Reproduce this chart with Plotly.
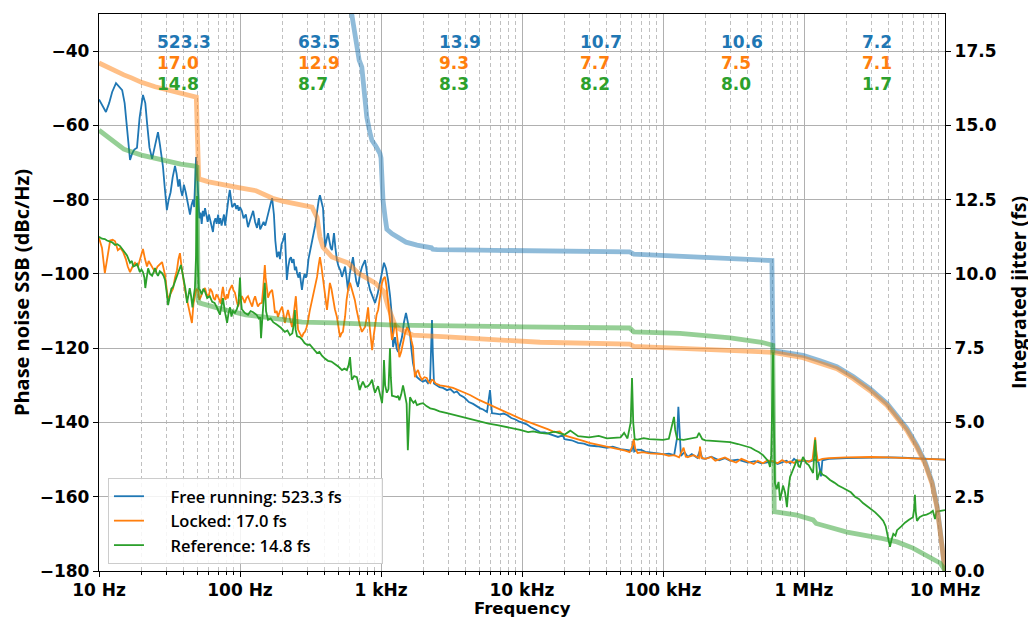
import math
import plotly.graph_objects as go

# ---------------- data ----------------
decade_hz = [10, 100, 1e3, 1e4, 1e5, 1e6, 1e7]
decade_labels = ["10 Hz", "100 Hz", "1 kHz", "10 kHz", "100 kHz", "1 MHz", "10 MHz"]
pn_ticks = [-180, -160, -140, -120, -100, -80, -60, -40]
jit_ticks = [0, 2.5, 5.0, 7.5, 10.0, 12.5, 15.0, 17.5]

# integrated jitter (fs) from each decade start up to 10 MHz
ann_free = [523.3, 63.5, 13.9, 10.7, 10.6, 7.2]
ann_lock = [17.0, 12.9, 9.3, 7.7, 7.5, 7.1]
ann_ref = [14.8, 8.7, 8.3, 8.2, 8.0, 1.7]

# phase noise SSB (Hz, dBc/Hz)
pn_free = [(10,-53),(10.5,-54.5),(11.2,-56.4),(11.8,-54),(12.4,-51),(13.2,-48.6),(13.9,-49.5),(14.6,-50.5),(15.2,-54),(15.8,-60),(16.6,-69.3),(17.2,-67.5),(17.8,-66.5),(18.6,-66),(19.4,-58),(20.5,-51.8),(21.3,-54),(22,-60),(22.8,-66),(23.8,-69),(24.5,-67),(25.3,-64),(26.2,-61.8),(27,-65),(27.7,-68.5),(28.4,-71),(29.3,-77),(30.3,-82.8),(31.2,-80),(32.2,-78),(33.3,-74),(34.6,-70.9),(35.5,-73),(36.5,-76.5),(37.3,-74.5),(38.1,-77.5),(39,-79),(40,-76),(41.2,-78),(42.7,-81),(43.5,-83),(44.2,-84),(45.3,-81.5),(46.5,-80),(47.3,-82),(48.2,-76),(48.8,-68.5),(49.5,-72),(50.5,-80),(51.5,-85),(52.5,-83.5),(53.5,-86.5),(54.5,-83),(55.5,-84.5),(56.5,-82.3),(57.8,-84),(59,-86),(60.2,-84),(61.3,-85.5),(62.8,-87),(64.3,-88.7),(65.5,-86),(67,-85),(68.3,-86.5),(70,-84),(71,-86.5),(72.5,-85),(74,-87),(75.5,-85),(77,-84),(78.5,-87),(80,-84),(81.5,-82),(83,-79.5),(84.7,-77.4),(86.5,-80),(88,-82),(90,-81.5),(92,-81),(94,-82.5),(96,-81.5),(98,-83),(100,-82),(103,-83),(106,-85),(110,-84),(114,-87.4),(118,-85.5),(121,-84),(124,-83),(128,-86),(132,-87.6),(136,-85),(139,-88),(143,-87),(147,-86),(151,-87),(155,-85),(160,-83),(165,-81),(169,-79.6),(174,-84),(178,-91),(183,-95.5),(188,-94),(192,-96),(197,-92),(202,-91),(208,-89),(212,-96),(215,-101.6),(220,-98),(225,-96),(230,-95.5),(234,-97),(240,-96),(245,-99),(250,-98),(254,-99.8),(260,-101),(265,-99.5),(270,-102),(275,-104.3),(281,-101.5),(287,-100),(293,-101),(299,-99.8),(306,-96),(313,-94),(320,-91.5),(329,-90),(335,-88.5),(341,-87),(347,-84.7),(355,-82),(362,-80),(369,-78.8),(378,-80.5),(388,-82.3),(395,-88),(401,-92.8),(410,-91),(421,-89),(430,-91),(440,-93),(449,-93.6),(456,-91),(464,-89),(475,-93),(487,-96.3),(500,-98),(515,-99),(529,-100.8),(542,-99),(556,-98),(570,-101),(583,-104.3),(600,-100),(617,-97.5),(633,-95.5),(650,-99),(668,-102),(687,-103.5),(710,-100),(735,-98),(755,-97),(771,-96.3),(790,-99),(810,-102),(836,-104.3),(870,-106),(907,-107.8),(945,-105.5),(984,-102.4),(1015,-99.5),(1050,-97),(1085,-98.5),(1122,-101.6),(1160,-106),(1196,-111.6),(1217,-119.7),(1257,-117),(1290,-120),(1321,-121),(1365,-119),(1409,-117),(1455,-113),(1504,-110.5),(1550,-113),(1606,-116),(1640,-120),(1686,-124),(1740,-126.5),(1800,-127.8),(1890,-128.5),(1985,-129),(2070,-128.6),(2153,-129.4),(2230,-128.5),(2270,-120),(2300,-112.4),(2330,-121),(2376,-129.5),(2480,-130),(2600,-130.5),(2750,-130.7),(2939,-131.3),(3100,-131),(3300,-132),(3450,-131.6),(3630,-132.6),(3900,-133.3),(4200,-134.5),(4500,-135),(4797,-135.8),(5050,-136.2),(5300,-136.5),(5480,-136.8),(5646,-137.2),(5800,-134),(5930,-131.3),(6030,-134.5),(6124,-137.5),(6500,-137.6),(7000,-137.8),(7400,-137.6),(7830,-138),(8400,-138.8),(9000,-139.2),(9600,-139.8),(10170,-140.2),(10800,-140.5),(11500,-141.2),(12400,-141.8),(13420,-142.6),(14500,-142.7),(16000,-143.3),(18000,-143.9),(19500,-143.5),(20000,-144.5),(22500,-144.8),(25000,-145.5),(27500,-145.7),(30000,-146.2),(34000,-146.4),(40000,-146.8),(44000,-146.5),(50000,-147.2),(55000,-147.4),(60000,-147.6),(61500,-145),(62500,-147.8),(66000,-147.3),(70000,-147.4),(75000,-147.9),(80000,-148),(88000,-148.2),(95000,-148.4),(100000,-148.6),(110000,-148.4),(120000,-148.8),(126000,-144),(128500,-135.8),(131000,-144),(134000,-149),(142000,-148),(150000,-149.3),(160000,-148.5),(175000,-149.5),(183000,-147.5),(190000,-149.7),(200000,-149.8),(220000,-149.2),(250000,-150.2),(275000,-149.6),(300000,-150.3),(340000,-150),(400000,-150.8),(450000,-150.4),(500000,-151),(550000,-150.7),(600000,-150.5),(650000,-151.2),(700000,-150.7),(750000,-150.3),(800000,-151),(850000,-149.8),(900000,-150.6),(1e6,-150.3),(1.1e6,-150.5),(1.2e6,-150),(1.27e6,-150.8),(1.3e6,-153.5),(1.32e6,-154.5),(1.35e6,-150.2),(1.5e6,-149.8),(2e6,-149.6),(3e6,-149.4),(4e6,-149.4),(5e6,-149.5),(7e6,-149.8),(1e7,-150)]

pn_lock = [(10,-90.3),(10.5,-93),(11,-99.8),(11.5,-95),(12,-91),(12.5,-90.8),(13,-91.2),(13.6,-93.6),(14.2,-93),(14.8,-94),(15.5,-96),(16,-98),(16.6,-99.5),(17.3,-98),(18,-97),(18.9,-98),(19.7,-95.5),(20.5,-93.3),(21.2,-96),(21.9,-98),(22.5,-96.5),(23.2,-97.5),(24,-98.5),(25,-99.5),(26,-98),(27,-97.5),(28,-96.8),(28.7,-98.5),(29.4,-100.3),(30.2,-104),(30.9,-107),(32,-105.5),(33.5,-104),(34.6,-101),(35.7,-99),(36.6,-96),(37.5,-94.4),(38.5,-98),(39.5,-101.6),(40.8,-104.5),(42.1,-107),(43.5,-110),(44.5,-112),(45.6,-113.2),(46.8,-108),(47.9,-106),(49,-104),(50.4,-104.5),(51.5,-107),(53,-106),(54.5,-104.5),(56.5,-103.8),(58,-105.5),(60,-106),(61.5,-104),(63.4,-104.8),(65,-106.5),(66.5,-107),(68,-105.5),(69.9,-106.2),(71.5,-107.5),(73,-108),(74.5,-105),(75.7,-103.5),(77.3,-106),(79,-107),(80.5,-105.5),(82,-106.6),(84,-104.5),(86,-103.5),(87.7,-103),(90,-104.5),(92,-105),(95,-107.5),(97,-108.8),(100,-107),(103,-106),(106,-107),(108,-107.8),(111,-106.5),(114,-106),(118,-107.5),(122,-108.8),(125,-107),(128,-106),(131,-107.5),(134,-108.8),(138,-108),(143,-107.8),(146,-104),(148,-99),(150,-97.6),(152,-101),(155,-105),(158,-106.4),(163,-105),(169,-104.3),(173,-107),(177,-110.5),(182,-110),(186,-111.6),(192,-110),(199,-108.8),(204,-111),(208,-113.2),(213,-111.5),(219,-109.7),(226,-112),(234,-114.3),(240,-111),(245,-107.5),(249,-106),(253,-110),(258,-115),(266,-116),(275,-117),(282,-116),(289,-115.6),(296,-114.5),(302,-113.2),(312,-110),(324,-107),(338,-104),(352,-100.8),(360,-98),(369,-95.5),(378,-98),(388,-101.6),(400,-105.5),(414,-109.7),(424,-106),(434,-102.4),(445,-104),(456,-107),(471,-109.5),(487,-111.6),(500,-114.5),(512,-117),(524,-116),(537,-115.6),(546,-113.5),(556,-111.6),(570,-107),(586,-104),(603,-102.4),(627,-104.5),(652,-107),(670,-109.5),(687,-111.6),(710,-114),(732,-115.6),(751,-115),(771,-114.3),(790,-112),(810,-109),(830,-114),(848,-118),(865,-120.5),(885,-117),(907,-113.2),(930,-111),(954,-109.7),(985,-106),(1017,-102.4),(1040,-101.3),(1067,-100.8),(1095,-103.5),(1122,-107),(1160,-112),(1196,-117.8),(1225,-116),(1257,-113.2),(1277,-114),(1295,-116),(1320,-119.5),(1350,-122.4),(1390,-121),(1433,-118.5),(1480,-116),(1530,-114.3),(1570,-115),(1606,-116),(1645,-118),(1686,-119.7),(1710,-124),(1740,-127.8),(1785,-126.5),(1830,-125.9),(1890,-127.5),(1950,-128.5),(2030,-127.8),(2110,-128),(2170,-129),(2235,-129.4),(2290,-128.5),(2338,-128.6),(2450,-129.5),(2620,-130),(2900,-130.3),(3241,-130.7),(3700,-131.6),(4277,-132.6),(5000,-134),(5930,-135.3),(6800,-136.2),(7830,-137.2),(9000,-138.4),(10170,-139.3),(11700,-140.2),(13420,-141),(15200,-141.8),(17000,-142.6),(18500,-142.4),(20000,-143.5),(22500,-144),(25000,-144.5),(27500,-145),(30000,-145.5),(35000,-146),(40000,-146.5),(45000,-146.9),(50000,-147.3),(54000,-147.6),(58000,-148),(60500,-146.5),(62000,-144.5),(63500,-147),(66000,-148.2),(72000,-148),(80000,-148.3),(90000,-148.4),(100000,-148.5),(110000,-149),(120000,-148.8),(130000,-149.4),(140000,-146.8),(145000,-149.2),(150000,-149.3),(165000,-148.8),(180000,-149.6),(183000,-146.5),(187000,-149.5),(200000,-149.8),(220000,-149.3),(235000,-150.3),(250000,-150),(275000,-149.4),(300000,-150.2),(330000,-150.8),(360000,-149.8),(400000,-150.5),(440000,-151.2),(470000,-150.3),(512000,-151),(550000,-150.2),(600000,-150.4),(650000,-151),(700000,-150.1),(750000,-150.8),(800000,-150.5),(850000,-150.9),(900000,-150.2),(1e6,-150.2),(1.08e6,-150.6),(1.15e6,-150),(1.18e6,-147),(1.2e6,-144),(1.22e6,-147.5),(1.25e6,-150.3),(1.35e6,-149.8),(1.5e6,-149.6),(2e6,-149.4),(2.5e6,-149.3),(3e6,-149.3),(4e6,-149.4),(5e6,-149.5),(6e6,-149.6),(8e6,-149.8),(1e7,-150)]

pn_ref = [(10,-90),(10.5,-90.5),(11,-90.6),(11.4,-91),(12,-91.3),(12.4,-91.5),(13,-92.2),(13.5,-92),(14.1,-92.5),(14.6,-93.3),(15.2,-94.4),(15.8,-95),(16.6,-97),(17.1,-96.5),(17.5,-98),(18,-97.8),(18.6,-97.3),(19,-98.5),(19.5,-99.5),(20,-98.8),(20.5,-99.5),(21,-101),(21.3,-103.8),(21.8,-101),(22.3,-98.5),(23,-100),(23.8,-100.5),(24.4,-99.5),(25,-98.4),(25.6,-99.8),(26.2,-100.5),(27,-99.3),(28,-99.8),(28.7,-100.5),(29.4,-101.6),(30.2,-105),(30.9,-108.4),(31.8,-106),(32.6,-104),(33.5,-103.5),(34.6,-102),(35.7,-101),(36.8,-99.5),(38.1,-97.6),(39,-99.5),(40,-101.6),(41,-104),(42.1,-107.8),(43,-105.5),(44,-103.8),(45,-106),(46,-109),(47,-106),(47.9,-103.8),(48.8,-95),(49.6,-79),(50.2,-97),(51,-104),(52,-104.3),(53.5,-105.5),(55,-104),(56.5,-104.8),(58.5,-106.5),(61,-106),(63.5,-107.5),(66,-107.8),(68.5,-109),(72,-111),(74,-108.5),(75.7,-106.5),(78,-110),(81,-113.2),(83,-110.5),(85,-109),(87,-111.5),(89,-110),(92,-110.5),(95,-109.5),(97.5,-108),(100,-101),(101.5,-107),(103,-109.5),(108,-110.5),(114,-111),(119,-110),(124,-110.3),(131,-111),(136,-112),(139,-111.6),(141,-117.3),(144,-112),(148,-105),(150,-102.4),(153,-110),(158,-112.4),(165,-112),(172,-113),(183,-113.7),(195,-114.5),(208,-115.6),(217,-115.2),(226,-116.5),(235,-116),(242,-113),(245,-109.7),(248,-115),(254,-116.8),(265,-117),(275,-117.6),(287,-118.6),(299,-119.1),(312,-119),(324,-119.7),(338,-120.5),(352,-121.3),(366,-121),(381,-122),(400,-122.8),(421,-123.4),(445,-123.6),(470,-124.2),(500,-125),(529,-125.9),(550,-125.5),(573,-125.9),(590,-124.5),(603,-122.4),(612,-125),(621,-128.5),(645,-127.5),(674,-127.8),(690,-129.5),(705,-131.3),(725,-130),(744,-129),(775,-130.5),(810,-130.2),(838,-129.5),(865,-128.5),(885,-130.5),(907,-132),(930,-131),(954,-130.2),(985,-132.5),(1017,-134.8),(1035,-131),(1050,-123.2),(1070,-130),(1100,-132),(1130,-131),(1145,-126),(1158,-120),(1175,-128),(1196,-132.8),(1245,-133),(1295,-133.2),(1320,-132.8),(1350,-134),(1390,-132.5),(1433,-130),(1460,-131.5),(1480,-132.6),(1520,-135),(1550,-147.5),(1580,-136),(1606,-133.2),(1650,-134),(1700,-134.7),(1750,-134.2),(1800,-135.3),(1890,-135),(1985,-134.8),(2100,-135.6),(2235,-136.2),(2400,-136.5),(2600,-137),(2939,-137.5),(3300,-138),(3780,-138.5),(4300,-139.2),(5052,-139.9),(5800,-140.3),(6680,-140.7),(7600,-141.1),(8630,-141.5),(9700,-142),(11050,-142.6),(12000,-142.4),(13420,-142.8),(15000,-143),(17000,-142.5),(20000,-143.3),(22000,-142.2),(25000,-143.7),(30000,-144),(35000,-143.6),(40000,-144.3),(45000,-144.1),(50000,-144),(53000,-142.8),(56000,-144.3),(59000,-140),(60300,-128),(61500,-140),(63000,-144.5),(66000,-144.6),(73000,-144.2),(80000,-144.5),(90000,-144.6),(100000,-144.7),(110000,-144.4),(116000,-141),(119700,-138.5),(122000,-142),(126000,-144.5),(140000,-144.7),(155000,-144.4),(174000,-144),(180000,-142.8),(190000,-144.5),(200000,-144.8),(226000,-145),(260000,-145.2),(299000,-145.3),(340000,-145.8),(394000,-146.5),(420000,-146.8),(450000,-147.5),(480000,-148),(512000,-148.8),(545000,-149.8),(560000,-150.5),(574000,-152),(585000,-149),(595000,-135),(603000,-121),(610000,-138),(615000,-150),(622000,-156.3),(640000,-158),(660000,-156),(676000,-161),(692000,-158.5),(710000,-157),(735000,-159),(757000,-162.8),(775000,-158),(796000,-154.7),(830000,-153),(860000,-151.5),(892000,-150),(915000,-151.8),(937000,-152),(960000,-150.5),(984000,-149.3),(1.04e6,-151),(1.08e6,-151.5),(1.16e6,-153.6),(1.18e6,-150),(1.2e6,-144.7),(1.22e6,-150),(1.24e6,-155.5),(1.3e6,-153),(1.35e6,-154),(1.43e6,-154.5),(1.53e6,-155.5),(1.64e6,-156.2),(1.75e6,-157),(1.88e6,-157.6),(2.02e6,-158.2),(2.15e6,-158.8),(2.3e6,-160),(2.45e6,-160.6),(2.62e6,-161.7),(2.8e6,-162.5),(3e6,-163.5),(3.2e6,-164.2),(3.46e6,-165.5),(3.65e6,-166.5),(3.8e6,-168),(3.95e6,-171),(4.07e6,-173.5),(4.18e6,-171.5),(4.3e6,-170),(4.45e6,-170.5),(4.57e6,-169),(4.9e6,-168),(5.2e6,-167),(5.55e6,-166.2),(5.93e6,-165.5),(6.05e6,-163),(6.12e6,-159.5),(6.2e6,-164),(6.33e6,-166.5),(6.6e6,-165.5),(7e6,-165),(7.4e6,-164.8),(7.83e6,-164.4),(8.2e6,-163.8),(8.5e6,-166),(8.7e6,-164),(9.2e6,-163.8),(1e7,-163.6)]

# integrated jitter (Hz, fs)
jit_free = [(10,523.3),(15,400),(20,300),(30,200),(45,140),(49.5,125),(50.5,90),(70,75),(100,63.5),(150,48),(200,40),(300,31),(400,26),(500,22.5),(560,20.5),(622,18.7),(674,17.5),(700,17.2),(731,16.96),(760,16.2),(793,15.28),(830,14.8),(862,14.5),(920,14.3),(960,14.17),(984,14.05),(1000,13.9),(1015,13.3),(1033,12.49),(1070,11.9),(1100,11.5),(1200,11.35),(1295,11.24),(1400,11.15),(1504,11.07),(1800,10.97),(2153,10.9),(2280,10.88),(2330,10.83),(2500,10.82),(5000,10.8),(10000,10.78),(30000,10.76),(58000,10.74),(62000,10.67),(100000,10.62),(132000,10.6),(300000,10.53),(574000,10.47),(592000,10.45),(603000,7.42),(984000,7.26),(1.3e6,7.08),(1.71e6,6.88),(2.23e6,6.55),(2.94e6,6.14),(3.88e6,5.64),(4.57e6,5.23),(5.37e6,4.8),(6.33e6,4.22),(7.21e6,3.68),(8.09e6,3.0),(8.78e6,2.19),(9.22e6,1.41),(9.68e6,0.48),(9.9e6,0.15),(1e7,0)]

jit_lock = [(10,17.1),(12,16.9),(15,16.7),(17,16.6),(20,16.45),(25,16.3),(30,16.2),(35,16.1),(40,16.05),(45,16.0),(49,15.95),(50,14.5),(51,13.2),(60,13.1),(70,13.05),(80,13.0),(92,12.95),(100,12.9),(130,12.8),(150,12.65),(170,12.55),(200,12.45),(250,12.35),(324,12.25),(352,11.9),(369,11.24),(388,10.9),(449,10.57),(583,10.37),(687,10.03),(907,9.7),(1000,9.5),(1050,9.4),(1122,8.9),(1257,8.28),(1350,8.15),(1686,7.94),(2939,7.88),(10000,7.72),(13420,7.7),(58000,7.64),(62000,7.56),(100000,7.52),(200000,7.45),(434000,7.4),(603000,7.36),(984000,7.18),(1.3e6,7.01),(1.71e6,6.81),(2.23e6,6.48),(2.94e6,6.07),(3.88e6,5.57),(4.57e6,5.16),(5.37e6,4.73),(6.33e6,4.15),(7.21e6,3.61),(8.09e6,2.94),(8.78e6,2.13),(9.22e6,1.36),(9.68e6,0.45),(9.9e6,0.13),(1e7,0)]

jit_ref = [(10,14.84),(12,14.55),(15,14.2),(20,14.0),(28,13.83),(38,13.7),(48,13.63),(49.5,13.6),(50.5,9.1),(52,9.02),(70,8.85),(100,8.65),(110,8.62),(150,8.55),(200,8.45),(275,8.38),(470,8.35),(1257,8.28),(10000,8.22),(13420,8.21),(58000,8.18),(62000,8.05),(132000,8.0),(300000,7.85),(500000,7.7),(600000,7.6),(615000,2.0),(892000,1.88),(1.16e6,1.72),(1.22e6,1.6),(2.02e6,1.31),(3.46e6,1.11),(4.57e6,0.98),(5.93e6,0.77),(7.83e6,0.47),(9.22e6,0.27),(9.7e6,0.12),(1e7,0)]

names = ["Free running", "Locked", "Reference"]
colors = ["#1f77b4", "#ff7f0e", "#2ca02c"]
faded = ["rgba(31,119,180,0.5)", "rgba(255,127,14,0.5)", "rgba(44,160,44,0.5)"]
pn_series = [pn_free, pn_lock, pn_ref]
jit_series = [jit_free, jit_lock, jit_ref]
ann_series = [ann_free, ann_lock, ann_ref]

NB = "\u00a0"
fig = go.Figure()
for name, col, pn, ann in zip(names, colors, pn_series, ann_series):
    fig.add_trace(go.Scatter(
        x=[p[0] for p in pn], y=[p[1] for p in pn], mode="lines",
        line=dict(color=col, width=1.8),
        name=NB * 5 + f"{name}: {ann[0]:.1f} fs" + NB * 8, yaxis="y"))
for col, jt in zip(faded, jit_series):
    fig.add_trace(go.Scatter(
        x=[p[0] for p in jt], y=[p[1] for p in jt], mode="lines",
        line=dict(color=col, width=4.8), showlegend=False, yaxis="y2"))

# decade annotations
ann_rows = [0.9497, 0.912, 0.874]
for col, ann, yy in zip(colors, ann_series, ann_rows):
    for d, v in zip(decade_hz[:-1], ann):
        fig.add_annotation(x=math.log10(2.5 * d), y=yy, xref="x", yref="paper",
                           text=f"{v:.1f}", showarrow=False, xanchor="left",
                           yanchor="middle",
                           font=dict(family="DejaVu Sans", size=17, color=col, weight="bold"))

# x-axis title, placed just under the tick labels
fig.add_annotation(x=0.5, y=-0.0682, xref="paper", yref="paper", text="Frequency",
                   showarrow=False, xanchor="center", yanchor="middle",
                   font=dict(family="DejaVu Sans", size=16.5, color="black", weight="bold"))

minor_vals = [m * d for d in decade_hz[:-1] for m in range(2, 10)]
tickfont = dict(family="DejaVu Sans", size=17, color="black", weight="bold")
gridc = "#b0b0b0"

# the page body adds an 8 px offset, so the figure is 8 px smaller than the window
fig.update_layout(
    width=1028, height=610,
    margin=dict(l=91, r=91, t=6, b=47, autoexpand=False),
    plot_bgcolor="white", paper_bgcolor="white",
    legend=dict(x=0.0106, y=0.167, xanchor="left", yanchor="top",
                bordercolor="#cccccc", borderwidth=1, bgcolor="rgba(255,255,255,0.85)",
                font=dict(family="Open Sans", size=16.5, color="black", weight=600),
                tracegroupgap=0),
    xaxis=dict(type="log", range=[1, 7], tickvals=decade_hz, ticktext=decade_labels,
               automargin=False, ticklabelstandoff=-2,
               tickfont=tickfont, ticks="outside", ticklen=5, tickwidth=1.3, tickcolor="black",
               showgrid=True, gridcolor=gridc, gridwidth=1,
               showline=True, mirror=True, linecolor="black", linewidth=1.3,
               minor=dict(tickvals=minor_vals, ticks="outside", ticklen=3, tickcolor="black",
                          showgrid=True, gridcolor="#c0c0c0", griddash="4px,3px", gridwidth=1)),
    yaxis=dict(range=[-180, -30], tickvals=pn_ticks,
               ticktext=[f"\u2212{abs(t)}" for t in pn_ticks], automargin=False,
               tickfont=tickfont, ticks="outside", ticklen=5, tickwidth=1.3, tickcolor="black",
               showgrid=True, gridcolor=gridc, gridwidth=1, zeroline=False,
               showline=True, linecolor="black", linewidth=1.3,
               title=dict(text="Phase noise SSB (dBc/Hz)", standoff=8,
                          font=dict(family="Open Sans", size=20, color="black", weight="bold"))),
    yaxis2=dict(range=[0, 18.75], overlaying="y", side="right", tickvals=jit_ticks,
                ticktext=[f"{t:.1f}" for t in jit_ticks], automargin=False,
                tickfont=tickfont, ticks="outside", ticklen=5, tickwidth=1.3, tickcolor="black",
                showgrid=False, zeroline=False,
                showline=True, linecolor="black", linewidth=1.3,
                title=dict(text="Integrated jitter (fs)", standoff=16,
                           font=dict(family="Open Sans", size=19.5, color="black", weight="bold"))),
)

fig.write_html("out.html")
